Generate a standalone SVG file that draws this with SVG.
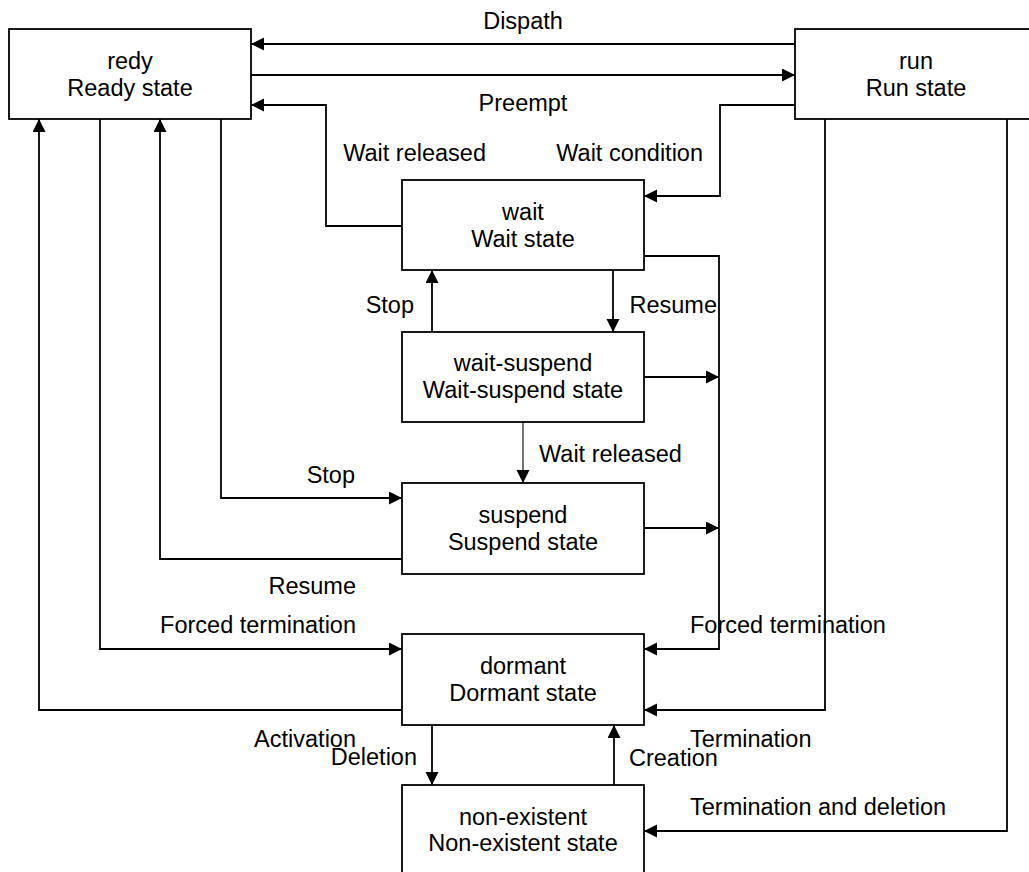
<svg xmlns="http://www.w3.org/2000/svg" width="1029" height="872" viewBox="0 0 1029 872">
  <style>
    .box { fill: #ffffff; stroke: #000000; stroke-width: 1.8; }
    .lbl { font-family: "Liberation Sans", Arial, sans-serif; font-size: 23.5px; fill: #000000; }
    .mid { text-anchor: middle; }
    .end { text-anchor: end; }
    .wire { fill: none; stroke: #000000; stroke-width: 1.8; marker-end: url(#arrow); }
    .thin { stroke-width: 1.1; }
  </style>
  <defs>
    <marker id="arrow" markerUnits="userSpaceOnUse" markerWidth="14" markerHeight="14" refX="13" refY="6.5" orient="auto">
      <path d="M0,0 L13,6.5 L0,13 Z" fill="#000000"/>
    </marker>
  </defs>
  <rect width="1029" height="872" fill="#ffffff"/>

  <!-- transitions -->
  <g id="connectors">
    <path class="wire" d="M795,44 H251"/>
    <path class="wire" d="M251,75 H795"/>
    <path class="wire" d="M402,226 H326 V105 H251"/>
    <path class="wire" d="M795,105 H720 V196 H644"/>
    <path class="wire" d="M644,256 H719 V649 H644"/>
    <path class="wire" d="M432,332 V270"/>
    <path class="wire" d="M613,270 V332"/>
    <path class="wire" d="M644,377 H719"/>
    <path class="wire thin" d="M523,422 V483"/>
    <path class="wire" d="M644,528 H719"/>
    <path class="wire" d="M221,119 V498 H402"/>
    <path class="wire" d="M402,559 H160 V119"/>
    <path class="wire" d="M100,119 V649 H402"/>
    <path class="wire" d="M402,710 H39 V119"/>
    <path class="wire" d="M825,119 V710 H644"/>
    <path class="wire" d="M1007,119 V831 H644"/>
    <path class="wire" d="M432,725 V785"/>
    <path class="wire" d="M614,785 V725"/>
  </g>

  <!-- transition labels -->
  <g id="labels">
    <text class="lbl mid" x="523" y="29">Dispath</text>
    <text class="lbl mid" x="523" y="111">Preempt</text>
    <text class="lbl end" x="486" y="161">Wait released</text>
    <text class="lbl end" x="703" y="161">Wait condition</text>
    <text class="lbl end" x="414" y="313">Stop</text>
    <text class="lbl end" x="717" y="313">Resume</text>
    <text class="lbl" x="539" y="462">Wait released</text>
    <text class="lbl end" x="355" y="483">Stop</text>
    <text class="lbl end" x="356" y="594">Resume</text>
    <text class="lbl end" x="356" y="633">Forced termination</text>
    <text class="lbl" x="690" y="633">Forced termination</text>
    <text class="lbl end" x="356" y="747">Activation</text>
    <text class="lbl end" x="417" y="765">Deletion</text>
    <text class="lbl" x="690" y="747">Termination</text>
    <text class="lbl" x="629" y="766">Creation</text>
    <text class="lbl" x="690" y="815">Termination and deletion</text>
  </g>

  <!-- states -->
  <g id="ready">
    <rect class="box" x="9" y="29" width="242" height="90"/>
    <text class="lbl mid" x="130" y="69">redy</text>
    <text class="lbl mid" x="130" y="96">Ready state</text>
  </g>
  <g id="run">
    <rect class="box" x="795" y="29" width="242" height="90"/>
    <text class="lbl mid" x="916" y="69">run</text>
    <text class="lbl mid" x="916" y="96">Run state</text>
  </g>
  <g id="wait">
    <rect class="box" x="402" y="180" width="242" height="90"/>
    <text class="lbl mid" x="523" y="220">wait</text>
    <text class="lbl mid" x="523" y="247">Wait state</text>
  </g>
  <g id="wait-suspend">
    <rect class="box" x="402" y="332" width="242" height="90"/>
    <text class="lbl mid" x="523" y="371">wait-suspend</text>
    <text class="lbl mid" x="523" y="398">Wait-suspend state</text>
  </g>
  <g id="suspend">
    <rect class="box" x="402" y="483" width="242" height="91"/>
    <text class="lbl mid" x="523" y="523">suspend</text>
    <text class="lbl mid" x="523" y="550">Suspend state</text>
  </g>
  <g id="dormant">
    <rect class="box" x="402" y="634" width="242" height="91"/>
    <text class="lbl mid" x="523" y="674">dormant</text>
    <text class="lbl mid" x="523" y="701">Dormant state</text>
  </g>
  <g id="non-existent">
    <rect class="box" x="402" y="785" width="242" height="90"/>
    <text class="lbl mid" x="523" y="825">non-existent</text>
    <text class="lbl mid" x="523" y="851">Non-existent state</text>
  </g>
</svg>
